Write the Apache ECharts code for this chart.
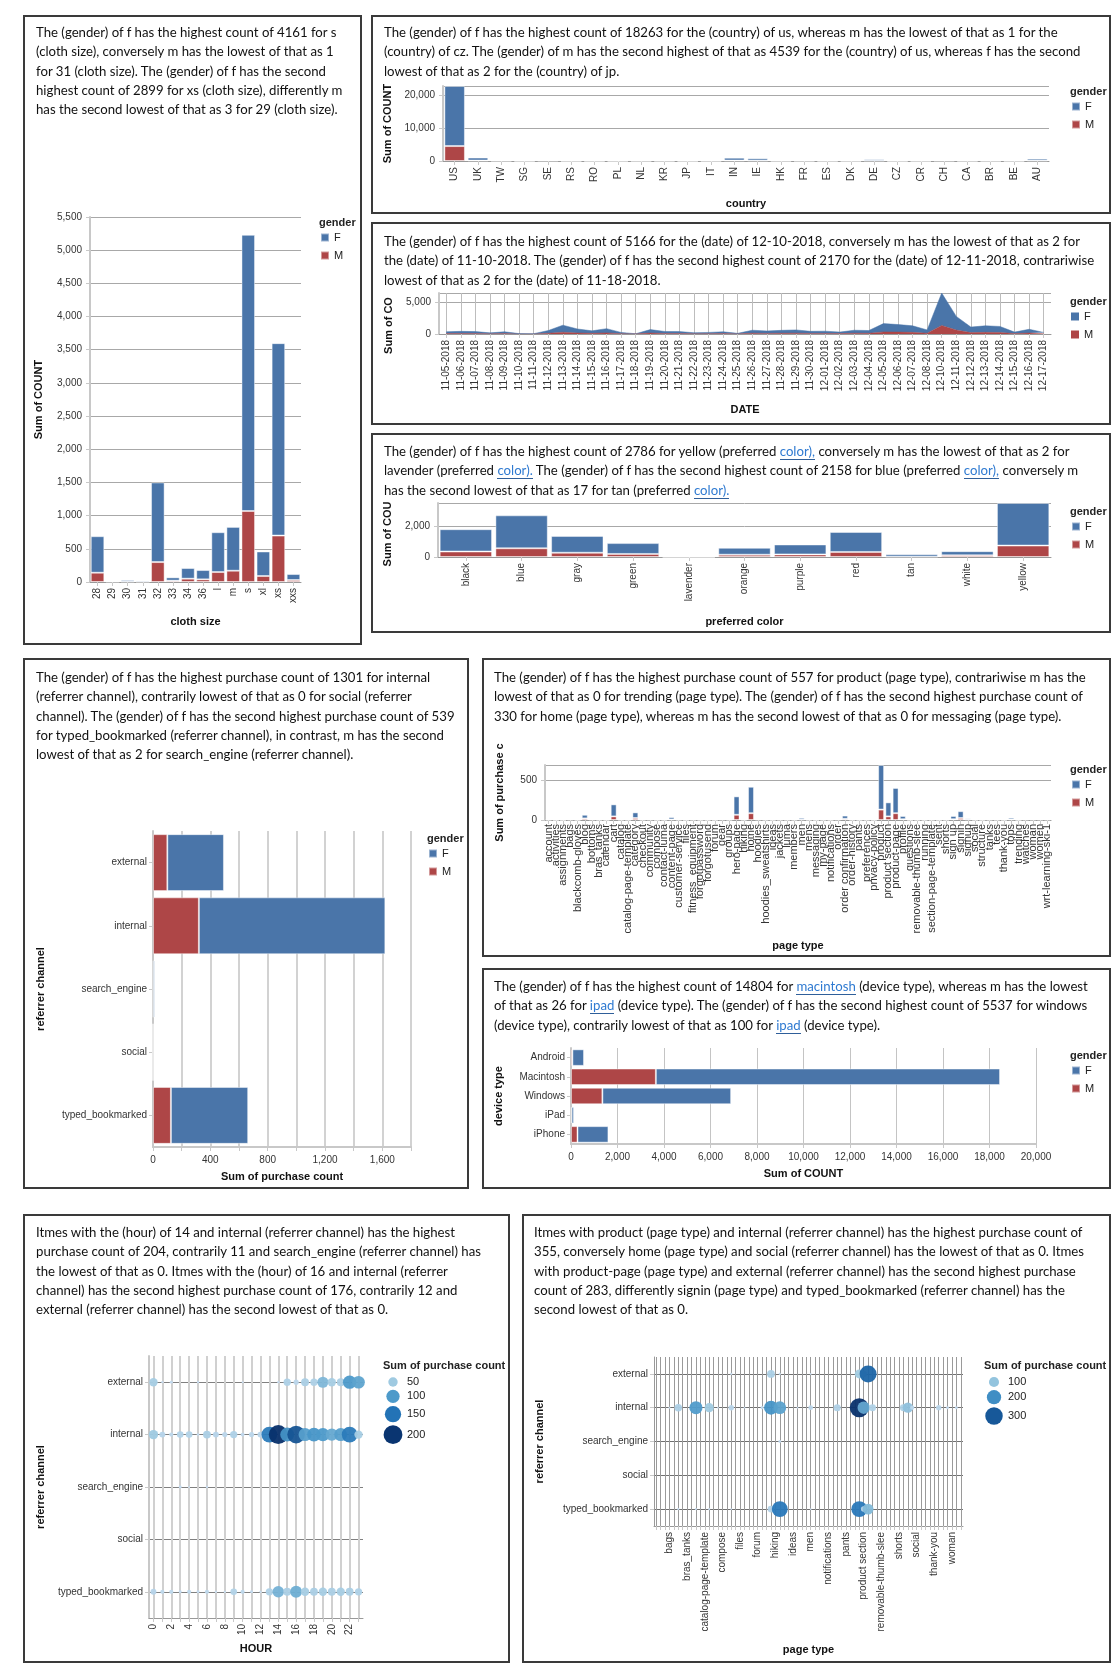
<!DOCTYPE html>
<html>
<head>
<meta charset="utf-8">
<title>gender dashboard</title>
<script src="https://cdn.jsdelivr.net/npm/echarts@6/dist/echarts.min.js"></script>
<style>
body{margin:0;background:#fff;width:1120px;height:1680px;position:relative;overflow:hidden}
.panel{position:absolute;border:2px solid #3a3a3a;box-sizing:border-box;background:#fff}
.panel .chart{position:absolute;left:0;top:0;width:100%;height:100%}
.panel .txt{position:absolute;font-family:Lato,"Open Sans",sans-serif;font-size:13.2px;line-height:19.3px;color:#111;white-space:nowrap;z-index:2;pointer-events:none}
.hl{color:#2f7ad1;border-bottom:1.5px solid #2f5f9a}
</style>
</head>
<body>

<div class="panel" style="left:23px;top:15px;width:339px;height:630px">
  <div class="chart" id="c1"></div>
  <div class="txt" style="left:11px;top:6px">The (gender) of f has the highest count of 4161 for s<br>(cloth size), conversely m has the lowest of that as 1<br>for 31 (cloth size). The (gender) of f has the second<br>highest count of 2899 for xs (cloth size), differently m<br>has the second lowest of that as 3 for 29 (cloth size).</div>
</div>

<div class="panel" style="left:371px;top:15px;width:740px;height:199px">
  <div class="chart" id="c2"></div>
  <div class="txt" style="left:11px;top:6px">The (gender) of f has the highest count of 18263 for the (country) of us, whereas m has the lowest of that as 1 for the<br>(country) of cz. The (gender) of m has the second highest of that as 4539 for the (country) of us, whereas f has the second<br>lowest of that as 2 for the (country) of jp.</div>
</div>

<div class="panel" style="left:371px;top:222px;width:740px;height:203px">
  <div class="chart" id="c3"></div>
  <div class="txt" style="left:11px;top:8px">The (gender) of f has the highest count of 5166 for the (date) of 12-10-2018, conversely m has the lowest of that as 2 for<br>the (date) of 11-10-2018. The (gender) of f has the second highest count of 2170 for the (date) of 12-11-2018, contrariwise<br>lowest of that as 2 for the (date) of 11-18-2018.</div>
</div>

<div class="panel" style="left:371px;top:433px;width:740px;height:200px">
  <div class="chart" id="c4"></div>
  <div class="txt" style="left:11px;top:7px">The (gender) of f has the highest count of 2786 for yellow (preferred <span class="hl">color),</span> conversely m has the lowest of that as 2 for<br>lavender (preferred <span class="hl">color).</span> The (gender) of f has the second highest count of 2158 for blue (preferred <span class="hl">color),</span> conversely m<br>has the second lowest of that as 17 for tan (preferred <span class="hl">color).</span></div>
</div>

<div class="panel" style="left:23px;top:658px;width:446px;height:531px">
  <div class="chart" id="c5"></div>
  <div class="txt" style="left:11px;top:8px">The (gender) of f has the highest purchase count of 1301 for internal<br>(referrer channel), contrarily lowest of that as 0 for social (referrer<br>channel). The (gender) of f has the second highest purchase count of 539<br>for typed_bookmarked (referrer channel), in contrast, m has the second<br>lowest of that as 2 for search_engine (referrer channel).</div>
</div>

<div class="panel" style="left:482px;top:658px;width:629px;height:299px">
  <div class="chart" id="c6"></div>
  <div class="txt" style="left:10px;top:8px">The (gender) of f has the highest purchase count of 557 for product (page type), contrariwise m has the<br>lowest of that as 0 for trending (page type). The (gender) of f has the second highest purchase count of<br>330 for home (page type), whereas m has the second lowest of that as 0 for messaging (page type).</div>
</div>

<div class="panel" style="left:482px;top:968px;width:629px;height:221px">
  <div class="chart" id="c7"></div>
  <div class="txt" style="left:10px;top:7px">The (gender) of f has the highest count of 14804 for <span class="hl">macintosh</span> (device type), whereas m has the lowest<br>of that as 26 for <span class="hl">ipad</span> (device type). The (gender) of f has the second highest count of 5537 for windows<br>(device type), contrarily lowest of that as 100 for <span class="hl">ipad</span> (device type).</div>
</div>

<div class="panel" style="left:23px;top:1214px;width:487px;height:449px">
  <div class="chart" id="c8"></div>
  <div class="txt" style="left:11px;top:7px">Itmes with the (hour) of 14 and internal (referrer channel) has the highest<br>purchase count of 204, contrarily 11 and search_engine (referrer channel) has<br>the lowest of that as 0. Itmes with the (hour) of 16 and internal (referrer<br>channel) has the second highest purchase count of 176, contrarily 12 and<br>external (referrer channel) has the second lowest of that as 0.</div>
</div>

<div class="panel" style="left:522px;top:1214px;width:589px;height:449px">
  <div class="chart" id="c9"></div>
  <div class="txt" style="left:10px;top:7px">Itmes with product (page type) and internal (referrer channel) has the highest purchase count of<br>355, conversely home (page type) and social (referrer channel) has the lowest of that as 0. Itmes<br>with product-page (page type) and external (referrer channel) has the second highest purchase<br>count of 283, differently signin (page type) and typed_bookmarked (referrer channel) has the<br>second lowest of that as 0.</div>
</div>

<script>
// ---- data ----
var clothSizes = ['28', '29', '30', '31', '32', '33', '34', '36', 'l', 'm', 's', 'xl', 'xs', 'xxs'];
var clothF = [550, 12, 25, 19, 1200, 50, 160, 140, 600, 660, 4161, 370, 2899, 90];
var clothM = [140, 3, 5, 1, 300, 20, 50, 40, 150, 170, 1070, 90, 700, 30];

var countries = ['US', 'UK', 'TW', 'SG', 'SE', 'RS', 'RO', 'PL', 'NL', 'KR', 'JP', 'IT', 'IN', 'IE', 'HK', 'FR', 'ES', 'DK', 'DE', 'CZ', 'CR', 'CH', 'CA', 'BR', 'BE', 'AU'];
var countryF = [18263, 900, 150, 30, 250, 20, 20, 30, 50, 80, 2, 40, 850, 700, 60, 80, 40, 30, 450, 20, 30, 200, 60, 50, 30, 600];
var countryM = [4539, 150, 20, 5, 40, 5, 5, 5, 10, 10, 5, 10, 150, 120, 10, 20, 10, 5, 80, 1, 5, 30, 10, 10, 5, 120];

var dates = ['11-05-2018', '11-06-2018', '11-07-2018', '11-08-2018', '11-09-2018', '11-10-2018', '11-11-2018', '11-12-2018', '11-13-2018', '11-14-2018', '11-15-2018', '11-16-2018', '11-17-2018', '11-18-2018', '11-19-2018', '11-20-2018', '11-21-2018', '11-22-2018', '11-23-2018', '11-24-2018', '11-25-2018', '11-26-2018', '11-27-2018', '11-28-2018', '11-29-2018', '11-30-2018', '12-01-2018', '12-02-2018', '12-03-2018', '12-04-2018', '12-05-2018', '12-06-2018', '12-07-2018', '12-08-2018', '12-10-2018', '12-11-2018', '12-12-2018', '12-13-2018', '12-14-2018', '12-15-2018', '12-16-2018', '12-17-2018'];
var dateF = [280, 340, 310, 145, 280, 58, 40, 440, 1120, 640, 400, 680, 200, 2, 560, 320, 305, 160, 200, 280, 80, 480, 385, 465, 520, 335, 360, 240, 480, 440, 1320, 1200, 1040, 520, 5166, 2170, 880, 1040, 960, 240, 600, 200];
var dateM = [70, 80, 70, 35, 70, 2, 10, 110, 280, 160, 100, 170, 50, 38, 140, 80, 75, 40, 50, 70, 20, 120, 95, 115, 130, 85, 90, 60, 120, 110, 330, 300, 260, 130, 1350, 630, 220, 260, 240, 60, 150, 50];

var colors = ['black', 'blue', 'gray', 'green', 'lavender', 'orange', 'purple', 'red', 'tan', 'white', 'yellow'];
var colorF = [1460, 2158, 1100, 710, 10, 450, 650, 1310, 160, 270, 2786];
var colorM = [360, 570, 280, 200, 2, 150, 170, 330, 17, 110, 750];

var channels = ['external', 'internal', 'search_engine', 'social', 'typed_bookmarked'];
var channelF = [395, 1301, 10, 0, 539];
var channelM = [100, 320, 2, 0, 125];

var pageTypes = ['account', 'activities', 'assignments', 'bags', 'blackcomb-gloves', 'blog', 'bottoms', 'bras_tanks', 'calendar', 'cart',
  'catalog', 'catalog-page-template', 'category', 'checkout', 'community', 'compose', 'contact-luma', 'content-page', 'customer-service', 'files',
  'fitness_equipment', 'forgotpassword', 'forgotusend', 'forum', 'gear', 'groups', 'hero-page', 'hiking', 'home', 'hoodies',
  'hoodies_sweatshirts', 'ideas', 'jackets', 'luma', 'members', 'men', 'mens', 'messaging', 'my-page', 'notifications',
  'order', 'order confirmation', 'order-history', 'pants', 'preferences', 'privacy-policy', 'product', 'product section', 'product-page', 'profile',
  'questions', 'removable-thumb-slee', 'running', 'section-page-template', 'sent', 'shorts', 'sign up', 'signin', 'signup', 'social',
  'structure', 'tanks', 'tees', 'thank-you', 'tops', 'trending', 'watches', 'woman', 'women', 'wrt-learning-ski-1'];
var pageF = [5, 2, 2, 10, 3, 45, 12, 3, 3, 150,
  5, 3, 70, 5, 8, 3, 3, 28, 5, 2,
  6, 3, 2, 3, 12, 3, 230, 5, 330, 8,
  3, 2, 6, 4, 4, 22, 3, 2, 3, 3,
  8, 40, 3, 2, 3, 2, 557, 175, 315, 40,
  3, 3, 3, 3, 2, 4, 40, 85, 15, 3,
  2, 5, 3, 3, 22, 0, 8, 8, 8, 9];
var pageM = [1, 0, 0, 2, 0, 20, 3, 1, 0, 45,
  1, 1, 25, 1, 2, 0, 1, 7, 1, 0,
  1, 0, 0, 0, 3, 1, 65, 1, 85, 2,
  1, 0, 1, 1, 1, 5, 1, 0, 1, 0,
  2, 15, 1, 0, 1, 0, 130, 45, 85, 10,
  0, 1, 0, 1, 0, 1, 10, 25, 5, 1,
  0, 1, 1, 0, 6, 0, 2, 2, 2, 2];

var devices = ['Android', 'Macintosh', 'Windows', 'iPad', 'iPhone'];
var deviceF = [500, 14804, 5537, 100, 1330];
var deviceM = [60, 3650, 1350, 26, 280];

var hours = ['0', '1', '2', '3', '4', '5', '6', '7', '8', '9', '10', '11', '12', '13', '14', '15', '16', '17', '18', '19', '20', '21', '22', '23'];
var hourExternal = [40, 3, 5, 0, 0, 3, 0, 0, 0, 0, 2, 0, 0, 0, 3, 30, 15, 35, 30, 70, 40, 35, 100, 90];
var hourInternal = [50, 20, 10, 25, 25, 4, 35, 20, 15, 30, 8, 15, 20, 140, 204, 110, 176, 95, 105, 100, 85, 95, 140, 40];
var hourSearch = [0, 0, 0, 5, 2, 0, 3, 0, 0, 0, 0, 0, 0, 0, 0, 0, 0, 0, 0, 0, 0, 0, 0, 0];
var hourSocial = [0, 0, 0, 0, 0, 0, 0, 0, 0, 0, 0, 0, 0, 0, 0, 0, 0, 0, 0, 0, 0, 0, 0, 0];
var hourTyped = [20, 10, 10, 5, 10, 5, 10, 3, 3, 25, 10, 5, 3, 30, 75, 35, 80, 40, 35, 40, 35, 40, 35, 30];

var pageExternal = [['content-page', 5], ['hero-page', 60], ['home', 5], ['men', 3], ['product', 80], ['product section', 40], ['product-page', 283]];
var pageInternal = [['bags', 4], ['blog', 55], ['cart', 170], ['category', 85], ['community', 3], ['content-page', 30], ['fitness_equipment', 3],
  ['gear', 10], ['hero-page', 190], ['home', 160], ['jackets', 3], ['men', 22], ['order confirmation', 50], ['product', 355],
  ['product section', 150], ['profile', 48], ['sign up', 48], ['signin', 105], ['signup', 18], ['tops', 28], ['watches', 8], ['women', 8]];
var pageSearch = [['home', 8]];
var pageSocial = [['home', 0]];
var pageTyped = [['blog', 5], ['cart', 5], ['category', 5], ['content-page', 3], ['hero-page', 45], ['home', 250], ['men', 3],
  ['product', 250], ['product section', 30], ['product-page', 117], ['signup', 2]];

// ---- shared styles ----
var FONT = '"Liberation Sans", Arial, sans-serif';
var COL_F = '#4a75a9';
var COL_M = '#ae4647';
var BLUES = ['#c6dbef', '#9ecae1', '#4a98c9', '#2171b5', '#08306b'];

function commas(v) {
    return echarts.format.addCommas(v);
}

function stackMax(a, b) {
    return Math.max.apply(null, a.map(function (v, i) { return v + b[i]; }));
}

/**
 * gender legend with its title
 */
function genderLegend(x, y) {
    return {
        title: {
            text: 'gender', left: x, top: y, padding: 0,
            textStyle: {fontFamily: FONT, fontSize: 11, fontWeight: 'bold', color: '#222'}
        },
        legend: {
            data: ['F', 'M'], orient: 'vertical', left: x + 1, top: y + 15, padding: 0,
            icon: 'rect', itemWidth: 8, itemHeight: 8, itemGap: 7, selectedMode: false,
            textStyle: {fontFamily: FONT, fontSize: 11, color: '#222'}
        }
    };
}

function axisName(o, axis) {
    axis.name = o.name;
    axis.nameLocation = 'middle';
    axis.nameGap = o.nameGap;
    axis.nameTextStyle = {fontFamily: FONT, fontSize: 11, fontWeight: 'bold', color: '#111'};
    if (o.namePad) {
        axis.nameTextStyle.padding = o.namePad;
    }
    if (o.trunc) {
        axis.nameTruncate = {maxWidth: o.trunc, ellipsis: ''};
    }
    return axis;
}

function valueAxis(o) {
    return axisName(o, {
        type: 'value', min: 0, max: o.max, interval: o.interval,
        axisLine: {show: true, lineStyle: {color: '#c8c8c8', width: 2}},
        axisTick: {show: true, length: 4, lineStyle: {color: '#c8c8c8'}},
        axisLabel: {
            fontFamily: FONT, fontSize: 10, color: '#333', showMaxLabel: o.showMax !== false,
            formatter: o.formatter || function (v) { return commas(v); }
        },
        splitLine: {show: true, lineStyle: {color: o.gridColor || '#a8a8a8', width: o.gridWidth || 1}}
    });
}

function catAxis(o) {
    return axisName(o, {
        type: 'category', data: o.data, inverse: !!o.inverse,
        axisLine: {show: true, lineStyle: {color: '#999'}},
        axisTick: {show: true, length: 4, alignWithLabel: true, interval: 0, lineStyle: {color: '#c8c8c8'}},
        axisLabel: {fontFamily: FONT, fontSize: o.fontSize || 10, color: '#333', rotate: o.rotate || 0, interval: o.labelInterval === undefined ? 0 : o.labelInterval, margin: 6},
        splitLine: {show: false}
    });
}

function genderSeries(fVals, mVals, gap) {
    var border = {borderColor: 'rgba(255,255,255,0.45)', borderWidth: 1};
    return [
        {name: 'M', type: 'bar', stack: 'g', data: mVals, barCategoryGap: gap, itemStyle: echarts.util.extend({color: COL_M}, border)},
        {name: 'F', type: 'bar', stack: 'g', data: fVals, barCategoryGap: gap, itemStyle: echarts.util.extend({color: COL_F}, border)}
    ];
}

function baseOption(grid, legendX, legendY) {
    var lg = genderLegend(legendX, legendY);
    return {
        animation: false,
        textStyle: {fontFamily: FONT},
        grid: grid,
        title: lg.title,
        legend: lg.legend
    };
}

function bubbleColor(v, max) {
    return echarts.color.lerp(Math.min(v / max, 1), BLUES);
}

/**
 * size legend of the bubble charts
 */
function sizeLegend(x, y, vals, k, max) {
    var els = [{
        type: 'text', left: x, top: y,
        style: {text: 'Sum of purchase count', font: 'bold 11px ' + FONT, fill: '#222'}
    }];
    var cy = y + 22, prevR = 0;
    vals.forEach(function (v, i) {
        var r = k * Math.sqrt(v) / 2;
        if (i > 0) {
            cy += prevR + r + 3;
        }
        els.push({type: 'circle', shape: {cx: x + 10, cy: cy, r: r}, style: {fill: bubbleColor(v, max)}});
        els.push({type: 'text', x: x + 24, y: cy, style: {text: String(v), font: '11px ' + FONT, fill: '#222', verticalAlign: 'middle'}});
        prevR = r;
    });
    return els;
}

function bubbleSeries(data, k, max) {
    return {
        type: 'scatter', data: data,
        symbolSize: function (v) { return k * Math.sqrt(v[2]); },
        itemStyle: {
            opacity: 0.95,
            color: function (p) { return bubbleColor(p.value[2], max); }
        }
    };
}

// ---- 1 cloth size ----
var opt1 = baseOption({left: 65, top: 200, width: 211, height: 365}, 294, 200);
opt1.xAxis = catAxis({data: clothSizes, rotate: 90, name: 'cloth size', nameGap: 34});
opt1.yAxis = valueAxis({max: 5500, interval: 500, name: 'Sum of COUNT', nameGap: 46});
opt1.series = genderSeries(clothF, clothM, '10%');
echarts.init(document.getElementById('c1')).setOption(opt1);

// ---- 2 country ----
var opt2 = baseOption({left: 70, top: 69, width: 606, height: 75}, 697, 69);
opt2.xAxis = catAxis({data: countries, rotate: 90, name: 'country', nameGap: 37});
opt2.yAxis = valueAxis({max: stackMax(countryF, countryM), interval: 10000, showMax: false, name: 'Sum of COUNT', nameGap: 48});
opt2.series = genderSeries(countryF, countryM, '12%');
echarts.init(document.getElementById('c2')).setOption(opt2);

// ---- 3 date ----
var opt3 = baseOption({left: 66, top: 69, width: 612, height: 41}, 697, 72);
opt3.xAxis = catAxis({data: dates, rotate: 90, name: 'DATE', nameGap: 70});
opt3.xAxis.splitLine = {show: true, interval: 0, alignWithLabel: true, lineStyle: {color: '#bdbdbd'}};
opt3.yAxis = valueAxis({max: stackMax(dateF, dateM), interval: 5000, showMax: false, name: 'Sum of COUNT', nameGap: 45, trunc: 64, namePad: [0, 24, 0, 0]});
opt3.series = [
    {name: 'M', type: 'line', stack: 'g', data: dateM, symbol: 'none', lineStyle: {width: 0.5, color: COL_M}, itemStyle: {color: COL_M}, areaStyle: {color: COL_M, opacity: 1}},
    {name: 'F', type: 'line', stack: 'g', data: dateF, symbol: 'none', lineStyle: {width: 0.5, color: COL_F}, itemStyle: {color: COL_F}, areaStyle: {color: COL_F, opacity: 1}}
];
echarts.init(document.getElementById('c3')).setOption(opt3);

// ---- 4 preferred color ----
var opt4 = baseOption({left: 65, top: 68, width: 613, height: 54}, 697, 71);
opt4.xAxis = catAxis({data: colors, rotate: 90, name: 'preferred color', nameGap: 59});
opt4.yAxis = valueAxis({max: stackMax(colorF, colorM), interval: 2000, showMax: false, name: 'Sum of COUNT', nameGap: 45, trunc: 72, namePad: [0, 8, 0, 0]});
opt4.series = genderSeries(colorF, colorM, '6%');
echarts.init(document.getElementById('c4')).setOption(opt4);

// ---- 5 referrer channel ----
var opt5 = baseOption({left: 128, top: 171, width: 258, height: 316}, 402, 173);
opt5.xAxis = valueAxis({max: 1800, interval: 200, name: 'Sum of purchase count', nameGap: 24, gridColor: '#d2d2d2', gridWidth: 2,
    formatter: function (v) { return v % 400 === 0 ? commas(v) : ''; }});
opt5.yAxis = catAxis({data: channels, inverse: true, name: 'referrer channel', nameGap: 107});
opt5.yAxis.axisLine.lineStyle = {color: '#c8c8c8', width: 2};
opt5.series = genderSeries(channelF, channelM, '10%');
echarts.init(document.getElementById('c5')).setOption(opt5);

// ---- 6 page type ----
var opt6 = baseOption({left: 61, top: 105, width: 506, height: 55}, 586, 104);
opt6.xAxis = catAxis({data: pageTypes, rotate: 90, fontSize: 11, name: 'page type', nameGap: 120});
opt6.xAxis.axisLabel.margin = 4;
opt6.yAxis = valueAxis({max: stackMax(pageF, pageM), interval: 500, showMax: false, name: 'Sum of purchase count', nameGap: 40, trunc: 104});
opt6.series = genderSeries(pageF, pageM, '18%');
echarts.init(document.getElementById('c6')).setOption(opt6);

// ---- 7 device type ----
var opt7 = baseOption({left: 87, top: 78, width: 465, height: 96}, 586, 80);
opt7.xAxis = valueAxis({max: 20000, interval: 2000, name: 'Sum of COUNT', nameGap: 24, gridColor: '#c4c4c4'});
opt7.yAxis = catAxis({data: devices, inverse: true, name: 'device type', nameGap: 67});
opt7.yAxis.axisLine.lineStyle = {color: '#c8c8c8', width: 2};
opt7.series = genderSeries(deviceF, deviceM, '14%');
echarts.init(document.getElementById('c7')).setOption(opt7);

// ---- 8 hour x referrer channel ----
var hourRows = [hourExternal, hourInternal, hourSearch, hourSocial, hourTyped];
var hourData = [];
var hourMax = 0;
hourRows.forEach(function (row, ci) {
    row.forEach(function (v, hi) {
        if (v > 0) {
            hourData.push([hi, ci, v]);
            hourMax = Math.max(hourMax, v);
        }
    });
});
var K8 = 19 / Math.sqrt(hourMax);
var opt8 = {
    animation: false,
    grid: {left: 124, top: 140, width: 214, height: 262},
    xAxis: catAxis({data: hours, rotate: 90, labelInterval: 1, name: 'HOUR', nameGap: 25}),
    yAxis: catAxis({data: channels, inverse: true, name: 'referrer channel', nameGap: 103}),
    graphic: sizeLegend(358, 144, [50, 100, 150, 200], K8, hourMax),
    series: [bubbleSeries(hourData, K8, hourMax)]
};
opt8.xAxis.splitLine = {show: true, interval: 0, alignWithLabel: true, lineStyle: {color: '#d0d0d0', width: 2}};
opt8.yAxis.splitLine = {show: true, interval: 0, alignWithLabel: true, lineStyle: {color: '#808080'}};
opt8.yAxis.axisLine.lineStyle = {color: '#c8c8c8', width: 2};
echarts.init(document.getElementById('c8')).setOption(opt8);

// ---- 9 page type x referrer channel ----
var pageRows = [pageExternal, pageInternal, pageSearch, pageSocial, pageTyped];
var pageData = [];
var pageMax = 0;
pageRows.forEach(function (row, ci) {
    row.forEach(function (p) {
        if (p[1] > 0) {
            pageData.push([pageTypes.indexOf(p[0]), ci, p[1]]);
            pageMax = Math.max(pageMax, p[1]);
        }
    });
});
var K9 = 19 / Math.sqrt(pageMax);
var opt9 = {
    animation: false,
    grid: {left: 130, top: 141, width: 309, height: 169},
    xAxis: catAxis({data: pageTypes, rotate: 90, name: 'page type', nameGap: 118,
        labelInterval: function (i) { return i % 4 === 3; }}),
    yAxis: catAxis({data: channels, inverse: true, name: 'referrer channel', nameGap: 109}),
    graphic: sizeLegend(460, 144, [100, 200, 300], K9, pageMax),
    series: [bubbleSeries(pageData, K9, pageMax)]
};
opt9.xAxis.splitLine = {show: true, interval: 0, alignWithLabel: true, lineStyle: {color: '#9a9a9a'}};
opt9.yAxis.splitLine = {show: true, interval: 0, alignWithLabel: true, lineStyle: {color: '#707070'}};
echarts.init(document.getElementById('c9')).setOption(opt9);
</script>
</body>
</html>
